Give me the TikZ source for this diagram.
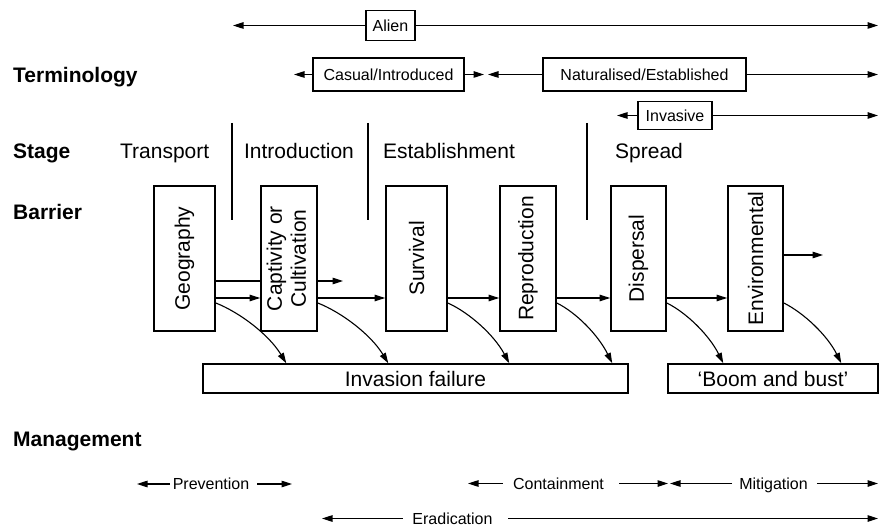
\documentclass[tikz,border=0pt]{standalone}
\usepackage{fontspec}
\setmainfont{Liberation Sans}
\usetikzlibrary{arrows.meta}
\begin{document}
\begin{tikzpicture}[x=1pt,y=-1pt,
  bigfont/.style={font=\fontsize{21}{24}\selectfont},
  smallfont/.style={font=\fontsize{16}{19}\selectfont},
  rowlabel/.style={font=\fontsize{21}{24}\selectfont\bfseries, anchor=base west, inner sep=0pt},
  stagename/.style={bigfont, anchor=base, inner sep=0pt},
  barrierbox/.style={draw, line width=1.7pt, minimum height=145pt, inner sep=0pt, bigfont},
  termbox/.style={draw, line width=1.5pt, smallfont, inner sep=0pt, text height=11.5pt, text depth=0pt},
  outcome/.style={draw, line width=1.5pt, bigfont, inner sep=0pt, minimum height=29pt, text height=15pt, text depth=0pt},
  mgmt/.style={smallfont, inner sep=0pt, text height=11.5pt, text depth=0pt},
  conn/.style={line width=1.1pt},
  divider/.style={line width=1.4pt},
  headone/.style={-{Triangle[length=10.5pt,width=6.5pt]}},
]
\useasboundingbox (0,0) rectangle (880,526);

% ---- row labels
\node[rowlabel] (lterm)  at (13,82.5) {Terminology};
\node[rowlabel] (lstage) at (13,159)  {Stage};
\node[rowlabel] (lbarr)  at (13,220)  {Barrier};
\node[rowlabel] (lmgmt)  at (13,446)  {Management};

% ---- terminology
\node[termbox, minimum width=49pt, minimum height=30pt] (alien) at (390.5,25.5) {Alien};
\coordinate (alienL) at (233,25.5);
\coordinate (alienR) at (878,25.5);
\draw[conn,headone] (alien.west) -- (alienL);
\draw[conn,headone] (alien.east) -- (alienR);

\node[termbox, minimum width=151pt, minimum height=33pt] (casual) at (388.5,74.5) {Casual/Introduced};
\coordinate (casualL) at (294,74.5);
\coordinate (casualR) at (484,74.5);
\draw[conn,headone] (casual.west) -- (casualL);
\draw[conn,headone] (casual.east) -- (casualR);

\node[termbox, minimum width=203pt, minimum height=33pt] (natur) at (644.5,74.5) {Naturalised/Established};
\coordinate (naturL) at (488,74.5);
\coordinate (naturR) at (878,74.5);
\draw[conn,headone] (natur.west) -- (naturL);
\draw[conn,headone] (natur.east) -- (naturR);

\node[termbox, minimum width=74pt, minimum height=28pt] (invas) at (675,115.5) {Invasive};
\coordinate (invasL) at (617,115.5);
\coordinate (invasR) at (878,115.5);
\draw[conn,headone] (invas.west) -- (invasL);
\draw[conn,headone] (invas.east) -- (invasR);

% ---- stages and their dividers
\node[stagename] (sTrans) at (164.7,159) {Transport};
\node[stagename] (sIntro) at (299,159)   {Introduction};
\node[stagename] (sEstab) at (449,159)   {Establishment};
\node[stagename] (sSprea) at (649,159)   {Spread};

\foreach \dx [count=\i] in {232,368,587} {
  \coordinate (dt\i) at (\dx,123);
  \coordinate (db\i) at (\dx,220);
  \draw[divider] (dt\i) -- (db\i);
}

% ---- barriers
\node[barrierbox, minimum width=61pt] (geo)   at (184.5,258.5) {\rotatebox{90}{Geography}};
\node[barrierbox, minimum width=56pt] (capt)  at (289,258.5)   {\rotatebox{90}{\begin{tabular}{@{}c@{}}Captivity or\\Cultivation\end{tabular}}};
\node[barrierbox, minimum width=61pt] (surv)  at (416.5,258.5) {\rotatebox{90}{Survival}};
\node[barrierbox, minimum width=56pt] (repro) at (528,258.5)   {\rotatebox{90}{Reproduction}};
\node[barrierbox, minimum width=55pt] (disp)  at (638.5,258.5) {\rotatebox{90}{Dispersal}};
\node[barrierbox, minimum width=55pt] (env)   at (755.5,258.5) {\rotatebox{90}{Environmental}};

% ---- outcomes
\node[outcome, minimum width=425pt] (fail) at (415.5,378.5) {Invasion failure};
\node[outcome, minimum width=210pt] (boom) at (773,378.5)   {`Boom and bust'};

% ---- passage from barrier to barrier
\coordinate (rowA) at (0,281);
\coordinate (rowB) at (0,298);
\coordinate (rowC) at (0,303);
\coordinate (rowD) at (0,255);
\coordinate (captOut) at (343,281);
\coordinate (envOut)  at (823,255);

\draw[conn] (geo.east |- rowA) -- (capt.west |- rowA);
\draw[conn,headone] (capt.east |- rowA) -- (captOut);
\draw[conn,headone] (geo.east |- rowB)   -- (capt.west |- rowB);
\draw[conn,headone] (capt.east |- rowB)  -- (surv.west |- rowB);
\draw[conn,headone] (surv.east |- rowB)  -- (repro.west |- rowB);
\draw[conn,headone] (repro.east |- rowB) -- (disp.west |- rowB);
\draw[conn,headone] (disp.east |- rowB)  -- (env.west |- rowB);
\draw[conn,headone] (env.east |- rowD)   -- (envOut);

% ---- failures at each barrier
\draw[conn,headone] (geo.east |- rowC)   .. controls +(25,10) and +(-17,-28) .. ([xshift=84pt]fail.north west);
\draw[conn,headone] (capt.east |- rowC)  .. controls +(25,10) and +(-17,-28) .. ([xshift=186pt]fail.north west);
\draw[conn,headone] (surv.east |- rowC)  .. controls +(22,10) and +(-15,-28) .. ([xshift=307pt]fail.north west);
\draw[conn,headone] (repro.east |- rowC) .. controls +(20,10) and +(-14,-28) .. ([xshift=410pt]fail.north west);
\draw[conn,headone] (disp.east |- rowC)  .. controls +(20,10) and +(-14,-28) .. ([xshift=56pt]boom.north west);
\draw[conn,headone] (env.east |- rowC)   .. controls +(20,10) and +(-14,-28) .. ([xshift=174pt]boom.north west);

% ---- management
\node[mgmt] (prev) at (211,484)     {Prevention};
\coordinate (prevL) at (137,484);
\coordinate (prevR) at (292,484);
\draw[conn,headone] ([xshift=-3pt]prev.west) -- (prevL);
\draw[conn,headone] ([xshift=8pt]prev.east) -- (prevR);

\node[mgmt] (cont) at (558.5,483.5) {Containment};
\coordinate (contL) at (468,483.5);
\coordinate (contR) at (668,483.5);
\draw[conn,headone] ([xshift=-10pt]cont.west) -- (contL);
\draw[conn,headone] ([xshift=15pt]cont.east) -- (contR);

\node[mgmt] (miti) at (773.5,483.5) {Mitigation};
\coordinate (mitiL) at (670,483.5);
\coordinate (mitiR) at (878,483.5);
\draw[conn,headone] ([xshift=-7pt]miti.west) -- (mitiL);
\draw[conn,headone] ([xshift=9pt]miti.east) -- (mitiR);

\node[mgmt] (erad) at (452.5,518.5) {Eradication};
\coordinate (eradL) at (322,518.5);
\coordinate (eradR) at (878,518.5);
\draw[conn,headone] ([xshift=-9.5pt]erad.west) -- (eradL);
\draw[conn,headone] ([xshift=15.5pt]erad.east) -- (eradR);
\end{tikzpicture}
\end{document}
